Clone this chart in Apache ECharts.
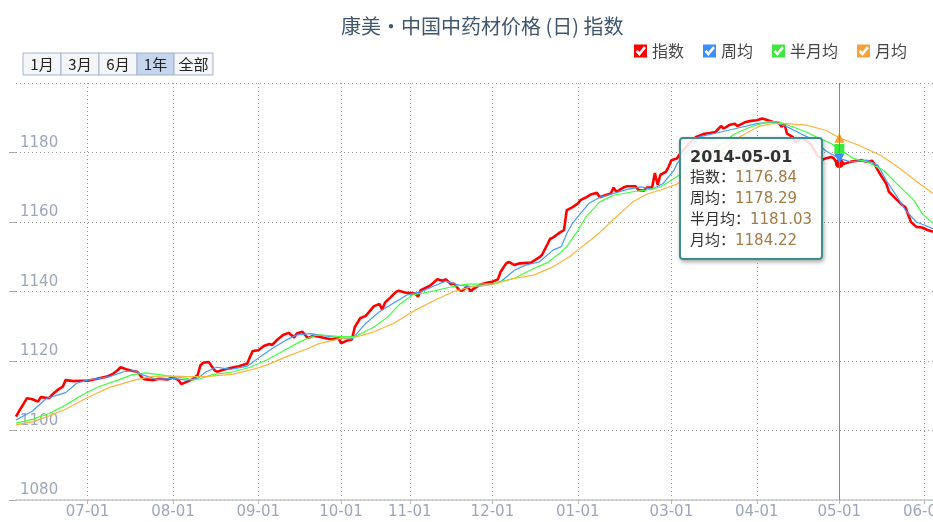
<!DOCTYPE html>
<html>
<head>
<meta charset="utf-8">
<script src="https://cdn.jsdelivr.net/npm/echarts@6/dist/echarts.min.js"></script>
<style>
  html, body { margin: 0; padding: 0; background: #fff; }
  #chart { width: 933px; height: 522px; }
</style>
</head>
<body>
<div id="chart"></div>
<script>
// trading days shown on the category axis (holiday gaps left out)
const dateRanges = [
  ['2013-06-05', '2013-10-01'],
  ['2013-10-08', '2014-01-26'],
  ['2014-02-21', '2014-06-04']
]

const seriesNames = ['指数', '周均', '半月均', '月均']
const seriesColors = ['#ff0000', '#3d8eff', '#3be83b', '#f5a33a']
const rangeButtons = ['1月', '3月', '6月', '1年', '全部']
const selectedButton = '1年'
const pointerDate = '2014-05-01'

// 指数
const zhishu = [
  ['2013-06-05', 1104.0], ['2013-06-06', 1105.4], ['2013-06-09', 1109.3], ['2013-06-11', 1109.0],
  ['2013-06-13', 1108.3], ['2013-06-14', 1109.6], ['2013-06-17', 1109.3], ['2013-06-18', 1110.2],
  ['2013-06-20', 1111.6], ['2013-06-22', 1112.6], ['2013-06-23', 1114.5], ['2013-06-26', 1114.2],
  ['2013-06-28', 1114.3], ['2013-07-01', 1114.3], ['2013-07-04', 1114.8], ['2013-07-08', 1115.5],
  ['2013-07-10', 1116.2], ['2013-07-12', 1117.4], ['2013-07-13', 1118.2], ['2013-07-15', 1117.6],
  ['2013-07-17', 1117.2], ['2013-07-19', 1116.9], ['2013-07-21', 1115.0], ['2013-07-22', 1114.7],
  ['2013-07-25', 1114.5], ['2013-07-27', 1114.9], ['2013-07-30', 1114.7], ['2013-08-01', 1115.3],
  ['2013-08-03', 1114.5], ['2013-08-04', 1113.4], ['2013-08-06', 1114.0], ['2013-08-08', 1114.7],
  ['2013-08-10', 1116.0], ['2013-08-11', 1118.8], ['2013-08-12', 1119.5], ['2013-08-14', 1119.7],
  ['2013-08-16', 1117.4], ['2013-08-17', 1116.9], ['2013-08-20', 1117.6], ['2013-08-23', 1118.2],
  ['2013-08-25', 1118.5], ['2013-08-28', 1119.3], ['2013-08-29', 1121.2], ['2013-08-30', 1122.9],
  ['2013-09-01', 1123.1], ['2013-09-03', 1124.3], ['2013-09-05', 1124.9], ['2013-09-06', 1124.6],
  ['2013-09-08', 1126.2], ['2013-09-10', 1127.5], ['2013-09-12', 1128.1], ['2013-09-14', 1126.8],
  ['2013-09-15', 1127.9], ['2013-09-17', 1128.4], ['2013-09-19', 1126.6], ['2013-09-21', 1127.3],
  ['2013-09-23', 1127.0], ['2013-09-26', 1126.5], ['2013-09-28', 1126.2], ['2013-09-30', 1126.8],
  ['2013-10-01', 1125.1], ['2013-10-09', 1125.8], ['2013-10-11', 1126.2], ['2013-10-12', 1129.7],
  ['2013-10-14', 1132.3], ['2013-10-16', 1133.0], ['2013-10-17', 1133.9], ['2013-10-19', 1135.8],
  ['2013-10-21', 1136.4], ['2013-10-22', 1134.8], ['2013-10-23', 1136.8], ['2013-10-25', 1138.3],
  ['2013-10-27', 1139.9], ['2013-10-28', 1140.2], ['2013-10-31', 1139.6], ['2013-11-03', 1139.4],
  ['2013-11-04', 1138.5], ['2013-11-05', 1140.4], ['2013-11-08', 1141.5], ['2013-11-09', 1142.1],
  ['2013-11-11', 1143.5], ['2013-11-13', 1143.1], ['2013-11-14', 1143.5], ['2013-11-16', 1142.1],
  ['2013-11-17', 1142.3], ['2013-11-19', 1140.4], ['2013-11-20', 1140.2], ['2013-11-22', 1141.5],
  ['2013-11-23', 1140.1], ['2013-11-25', 1141.2], ['2013-11-27', 1142.1], ['2013-11-29', 1142.5],
  ['2013-12-01', 1142.8], ['2013-12-03', 1143.5], ['2013-12-04', 1145.7], ['2013-12-06', 1148.1],
  ['2013-12-07', 1148.5], ['2013-12-09', 1147.6], ['2013-12-11', 1148.1], ['2013-12-15', 1148.3],
  ['2013-12-18', 1149.8], ['2013-12-19', 1150.5], ['2013-12-21', 1153.6], ['2013-12-22', 1155.2],
  ['2013-12-23', 1155.5], ['2013-12-25', 1156.7], ['2013-12-27', 1157.7], ['2013-12-28', 1163.4],
  ['2013-12-30', 1164.2], ['2014-01-01', 1165.3], ['2014-01-02', 1166.3], ['2014-01-04', 1167.1],
  ['2014-01-06', 1168.0], ['2014-01-08', 1168.4], ['2014-01-09', 1167.1], ['2014-01-11', 1167.7],
  ['2014-01-13', 1168.2], ['2014-01-14', 1169.9], ['2014-01-15', 1168.7], ['2014-01-18', 1170.1],
  ['2014-01-19', 1170.3], ['2014-01-22', 1170.3], ['2014-01-23', 1169.2], ['2014-01-25', 1169.0],
  ['2014-01-26', 1169.9], ['2014-02-22', 1169.9], ['2014-02-23', 1174.1], ['2014-02-24', 1170.7],
  ['2014-02-25', 1173.6], ['2014-02-27', 1174.4], ['2014-02-28', 1175.9], ['2014-03-01', 1177.8],
  ['2014-03-03', 1178.3], ['2014-03-05', 1180.5], ['2014-03-08', 1183.0], ['2014-03-10', 1184.5],
  ['2014-03-13', 1185.4], ['2014-03-15', 1185.6], ['2014-03-17', 1185.9], ['2014-03-19', 1187.6],
  ['2014-03-20', 1186.9], ['2014-03-22', 1187.9], ['2014-03-24', 1188.3], ['2014-03-25', 1187.6],
  ['2014-03-28', 1188.8], ['2014-03-30', 1189.1], ['2014-04-01', 1189.3], ['2014-04-03', 1189.8],
  ['2014-04-05', 1189.3], ['2014-04-07', 1188.8], ['2014-04-09', 1188.5], ['2014-04-10', 1187.4],
  ['2014-04-11', 1188.3], ['2014-04-12', 1185.4], ['2014-04-14', 1184.5], ['2014-04-15', 1183.0],
  ['2014-04-17', 1184.0], ['2014-04-19', 1183.5], ['2014-04-21', 1182.0], ['2014-04-23', 1179.0],
  ['2014-04-25', 1178.0], ['2014-04-26', 1178.3], ['2014-04-28', 1178.7], ['2014-04-29', 1178.3],
  ['2014-04-30', 1177.0], ['2014-05-01', 1176.84], ['2014-05-03', 1176.8], ['2014-05-05', 1177.3],
  ['2014-05-07', 1177.6], ['2014-05-09', 1177.8], ['2014-05-11', 1177.3], ['2014-05-13', 1177.6],
  ['2014-05-14', 1176.3], ['2014-05-16', 1173.5], ['2014-05-18', 1171.1], ['2014-05-19', 1168.7],
  ['2014-05-22', 1166.3], ['2014-05-24', 1164.8], ['2014-05-25', 1164.2], ['2014-05-27', 1160.0],
  ['2014-05-29', 1158.6], ['2014-05-31', 1158.4], ['2014-06-02', 1157.7], ['2014-06-04', 1157.2]
]

// 周均
const zhoujun = [
  ['2013-06-05', 1103.0], ['2013-06-11', 1105.6], ['2013-06-16', 1109.2], ['2013-06-23', 1110.9],
  ['2013-06-27', 1113.6], ['2013-07-01', 1114.5], ['2013-07-09', 1115.5], ['2013-07-14', 1116.9],
  ['2013-07-18', 1117.2], ['2013-07-21', 1116.0], ['2013-07-26', 1114.7], ['2013-08-01', 1115.0],
  ['2013-08-06', 1114.5], ['2013-08-10', 1115.0], ['2013-08-13', 1116.9], ['2013-08-17', 1118.2],
  ['2013-08-22', 1117.6], ['2013-08-28', 1118.5], ['2013-09-02', 1121.4], ['2013-09-06', 1123.6],
  ['2013-09-11', 1126.0], ['2013-09-15', 1127.5], ['2013-09-20', 1127.9], ['2013-09-23', 1127.5],
  ['2013-10-01', 1126.6], ['2013-10-11', 1126.3], ['2013-10-16', 1130.8], ['2013-10-21', 1134.2],
  ['2013-10-26', 1136.6], ['2013-10-31', 1139.0], ['2013-11-05', 1139.9], ['2013-11-09', 1141.3],
  ['2013-11-14', 1143.0], ['2013-11-19', 1141.8], ['2013-11-24', 1141.3], ['2013-11-29', 1141.8],
  ['2013-12-04', 1142.8], ['2013-12-09', 1146.1], ['2013-12-13', 1147.6], ['2013-12-18', 1148.5],
  ['2013-12-23', 1151.9], ['2013-12-26', 1152.9], ['2013-12-28', 1156.7], ['2013-12-30', 1159.5],
  ['2014-01-02', 1162.5], ['2014-01-05', 1165.3], ['2014-01-09', 1167.1], ['2014-01-14', 1168.2],
  ['2014-01-19', 1169.4], ['2014-01-24', 1170.1], ['2014-02-22', 1169.4], ['2014-02-26', 1171.1],
  ['2014-03-02', 1174.9], ['2014-03-03', 1176.8], ['2014-03-07', 1180.5], ['2014-03-11', 1184.5],
  ['2014-03-19', 1185.9], ['2014-03-26', 1187.2], ['2014-04-01', 1188.3], ['2014-04-07', 1188.8],
  ['2014-04-12', 1187.4], ['2014-04-17', 1185.4], ['2014-04-22', 1183.5], ['2014-04-26', 1180.5],
  ['2014-05-01', 1178.29], ['2014-05-05', 1177.3], ['2014-05-11', 1177.8], ['2014-05-15', 1176.3],
  ['2014-05-18', 1172.0], ['2014-05-22', 1167.2], ['2014-05-25', 1163.4], ['2014-05-29', 1160.0],
  ['2014-06-04', 1158.1]
]

// 半月均
const banyuejun = [
  ['2013-06-05', 1102.1], ['2013-06-11', 1103.2], ['2013-06-17', 1104.9], ['2013-06-23', 1107.3],
  ['2013-06-29', 1110.2], ['2013-07-05', 1112.6], ['2013-07-12', 1114.5], ['2013-07-17', 1116.0],
  ['2013-07-22', 1116.6], ['2013-07-27', 1116.1], ['2013-08-01', 1115.5], ['2013-08-06', 1115.0],
  ['2013-08-08', 1114.5], ['2013-08-11', 1114.9], ['2013-08-15', 1116.0], ['2013-08-23', 1116.9],
  ['2013-08-29', 1118.2], ['2013-09-04', 1120.3], ['2013-09-10', 1122.9], ['2013-09-16', 1125.5],
  ['2013-09-21', 1127.2], ['2013-09-23', 1127.5], ['2013-10-01', 1127.0], ['2013-10-12', 1127.0],
  ['2013-10-19', 1129.8], ['2013-10-24', 1132.7], ['2013-10-28', 1136.1], ['2013-11-02', 1139.0],
  ['2013-11-10', 1140.2], ['2013-11-17', 1141.5], ['2013-11-22', 1142.1], ['2013-11-26', 1142.1],
  ['2013-12-01', 1142.3], ['2013-12-09', 1143.8], ['2013-12-16', 1146.6], ['2013-12-21', 1148.3],
  ['2013-12-26', 1151.4], ['2013-12-28', 1152.9], ['2014-01-01', 1157.5], ['2014-01-04', 1161.5],
  ['2014-01-09', 1165.8], ['2014-01-14', 1167.7], ['2014-01-21', 1168.7], ['2014-01-26', 1169.2],
  ['2014-02-25', 1170.1], ['2014-03-03', 1173.0], ['2014-03-11', 1178.0], ['2014-03-19', 1182.3],
  ['2014-03-24', 1185.4], ['2014-03-30', 1187.4], ['2014-04-05', 1188.8], ['2014-04-09', 1188.8],
  ['2014-04-14', 1187.4], ['2014-04-19', 1185.9], ['2014-04-23', 1184.3], ['2014-04-28', 1182.6],
  ['2014-05-01', 1181.03], ['2014-05-06', 1178.3], ['2014-05-11', 1177.3], ['2014-05-17', 1174.9],
  ['2014-05-23', 1170.1], ['2014-05-28', 1166.3], ['2014-05-31', 1162.5], ['2014-06-04', 1159.6]
]

// 月均
const yuejun = [
  ['2013-06-05', 1101.6], ['2013-06-11', 1102.5], ['2013-06-17', 1104.2], ['2013-06-23', 1106.1],
  ['2013-07-01', 1109.5], ['2013-07-09', 1112.4], ['2013-07-18', 1114.5], ['2013-07-24', 1115.5],
  ['2013-07-30', 1115.7], ['2013-08-06', 1115.5], ['2013-08-13', 1115.5], ['2013-08-23', 1116.2],
  ['2013-08-30', 1117.6], ['2013-09-04', 1118.8], ['2013-09-11', 1121.2], ['2013-09-19', 1123.6],
  ['2013-09-23', 1125.0], ['2013-10-01', 1126.5], ['2013-10-12', 1126.8], ['2013-10-19', 1128.4],
  ['2013-10-26', 1130.8], ['2013-11-02', 1134.2], ['2013-11-10', 1137.5], ['2013-11-17', 1140.0],
  ['2013-11-24', 1141.5], ['2013-12-01', 1142.0], ['2013-12-09', 1143.8], ['2013-12-16', 1144.7],
  ['2013-12-23', 1147.1], ['2013-12-29', 1150.0], ['2014-01-01', 1151.9], ['2014-01-07', 1155.7],
  ['2014-01-09', 1157.0], ['2014-01-15', 1161.5], ['2014-01-21', 1165.8], ['2014-01-26', 1168.0],
  ['2014-02-25', 1169.2], ['2014-03-03', 1170.9], ['2014-03-11', 1175.5], ['2014-03-19', 1180.5],
  ['2014-03-26', 1184.6], ['2014-04-02', 1187.6], ['2014-04-07', 1188.3], ['2014-04-12', 1188.3],
  ['2014-04-19', 1187.9], ['2014-04-26', 1186.4], ['2014-05-01', 1184.22], ['2014-05-08', 1182.1],
  ['2014-05-16', 1179.2], ['2014-05-23', 1175.4], ['2014-05-30', 1171.1], ['2014-06-04', 1168.2]
]

const cjkFont = '"Noto Sans CJK SC", sans-serif'
const numFont = '"DejaVu Sans", "Noto Sans CJK SC", sans-serif'

function buildDates(ranges) {
  const out = []
  ranges.forEach(([from, to]) => {
    const d = new Date(from + 'T00:00:00Z')
    const end = new Date(to + 'T00:00:00Z')
    while (d <= end) {
      out.push(d.toISOString().slice(0, 10))
      d.setUTCDate(d.getUTCDate() + 1)
    }
  })
  return out
}

const dates = buildDates(dateRanges)
const isMonthStart = (index, value) => value.slice(8) === '01'

// legend icon: square with a check mark cut out
const checkIcon = 'path://M0,0L12,0L12,12L0,12Z M1.5,6.6L5,10.6L11,3.2L9.2,1.6L5,7L3.3,5Z'

function buildButtons() {
  const widths = [38, 38, 38, 37, 39]
  const els = []
  let x = 23
  rangeButtons.forEach((label, i) => {
    const selected = label === selectedButton
    els.push({
      type: 'rect',
      shape: { x: x, y: 53, width: widths[i], height: 22 },
      style: { fill: selected ? '#c4d5ed' : '#f4f6f9', stroke: '#a3b3ca', lineWidth: 1 }
    })
    els.push({
      type: 'text',
      x: x + widths[i] / 2,
      y: 64,
      style: {
        text: label, align: 'center', verticalAlign: 'middle',
        fill: '#222', fontSize: 15, fontFamily: cjkFont
      }
    })
    x += widths[i]
  })
  return els
}

function tooltipFormatter(params) {
  let html = `<div style="font-weight:bold;font-size:16px;color:#333;font-family:${numFont.replace(/"/g, "'")}">${params[0].axisValue}</div>`
  params.forEach(p => {
    html += `<div><span style="color:#333">${p.seriesName}：</span><span style="color:#a47a45">${p.value[1].toFixed(2)}</span></div>`
  })
  return html
}

const symbols = ['circle', 'path://M0,0L10,0L5,9Z', 'rect', 'triangle']
const seriesData = [zhishu, zhoujun, banyuejun, yuejun]

const chart = echarts.init(document.getElementById('chart'))
chart.setOption({
  animation: false,
  color: seriesColors,
  title: {
    text: '康美·中国中药材价格 (日) 指数',
    left: 336,
    top: 11,
    textStyle: { color: '#3e576f', fontSize: 20, fontWeight: 'normal', fontFamily: cjkFont }
  },
  legend: {
    data: seriesNames,
    right: 21,
    top: 38,
    icon: checkIcon,
    itemWidth: 13,
    itemHeight: 13,
    itemGap: 19,
    textStyle: { color: '#444', fontSize: 16, fontFamily: cjkFont }
  },
  graphic: buildButtons(),
  grid: { left: 16, right: 0, top: 83, bottom: 22, containLabel: false, outerBoundsMode: 'none' },
  tooltip: {
    trigger: 'axis',
    triggerOn: 'none',
    alwaysShowContent: true,
    position: [679, 137],
    backgroundColor: 'rgba(255,255,255,0.86)',
    borderColor: '#3f8c8c',
    borderWidth: 2,
    padding: [7, 9],
    textStyle: { fontSize: 15, fontFamily: numFont, color: '#333', lineHeight: 21 },
    extraCssText: 'border-radius:4px;box-shadow:1px 2px 4px rgba(0,0,0,0.35);line-height:21px;',
    axisPointer: { type: 'line', lineStyle: { color: '#8a8a8a', width: 1, type: 'solid' } },
    formatter: tooltipFormatter
  },
  xAxis: {
    type: 'category',
    data: dates,
    boundaryGap: false,
    axisLine: { lineStyle: { color: '#c8c8c8', width: 1.5 } },
    axisTick: { interval: isMonthStart, length: 4, lineStyle: { color: '#b8b8b8' } },
    axisLabel: {
      interval: isMonthStart,
      formatter: value => value.slice(5),
      color: '#9ea7ba',
      fontSize: 15,
      fontFamily: numFont,
      margin: 5,
      hideOverlap: false
    },
    splitLine: {
      show: true,
      interval: isMonthStart,
      lineStyle: { color: '#999', type: [1, 3] }
    }
  },
  yAxis: {
    type: 'value',
    min: 1080,
    max: 1200,
    interval: 20,
    axisLine: { show: false },
    axisTick: { show: true, length: 7, lineStyle: { color: '#aaa' } },
    axisLabel: {
      inside: true,
      showMaxLabel: false,
      verticalAlign: 'bottom',
      margin: 4,
      padding: [0, 0, 2, 0],
      color: '#9ea7ba',
      fontSize: 15,
      fontFamily: numFont,
      formatter: value => String(value)
    },
    splitLine: { lineStyle: { color: '#999', type: [1, 3] } }
  },
  series: seriesNames.map((name, i) => ({
    name: name,
    type: 'line',
    data: seriesData[i],
    showSymbol: false,
    symbol: symbols[i],
    symbolSize: i === 0 ? 9 : 10,
    emphasis: { scale: false },
    lineStyle: { width: i === 0 ? 2.6 : 1.2, color: seriesColors[i] },
    itemStyle: { color: seriesColors[i] }
  }))
})

chart.dispatchAction({
  type: 'showTip',
  seriesIndex: 0,
  dataIndex: zhishu.findIndex(d => d[0] === pointerDate)
})
</script>
</body>
</html>
